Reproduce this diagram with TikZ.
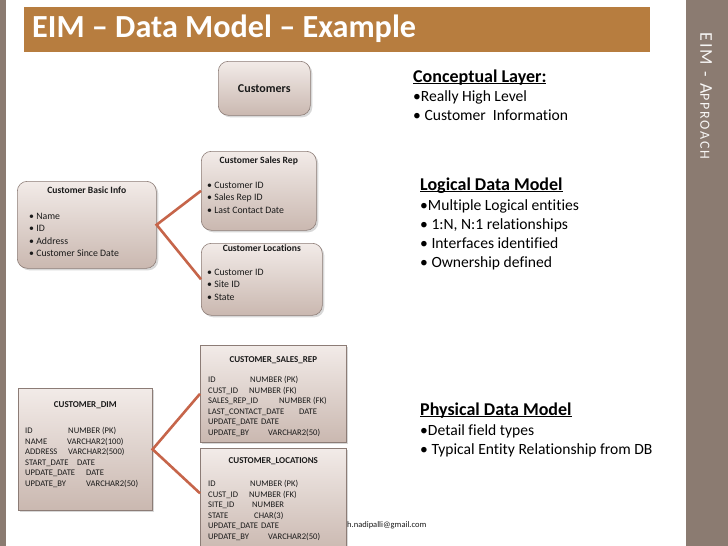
\documentclass[tikz,border=0pt]{standalone}
\usepackage{fontspec}
\setmainfont{Carlito}[Ligatures=NoCommon]
\usetikzlibrary{positioning,shadows,calc}
\definecolor{eimBar}{HTML}{B77D3F}
\definecolor{eimSide}{HTML}{8B7B71}
\definecolor{eimTop}{HTML}{F2EBE8}
\definecolor{eimBot}{HTML}{CAB8B0}
\definecolor{eimEdge}{HTML}{8C7C76}
\definecolor{eimLink}{HTML}{C6654A}
\definecolor{eimInk}{HTML}{1A1A1A}
% underline that runs through the descenders, as in the slide
\newcommand\eimul[1]{\setbox0\hbox{#1}\rlap{\rule[-1.8pt]{\wd0}{1.2pt}}\box0}
\newcommand\fld[3]{\makebox[#1pt][l]{#2}#3}
\tikzset{
  ent/.style    ={draw=eimEdge,line width=0.6pt,top color=eimTop,bottom color=eimBot,
                  drop shadow={opacity=0.3,shadow xshift=2pt,shadow yshift=-2pt},
                  anchor=north west,inner sep=0pt},
  lent/.style   ={ent,rounded corners=10pt},
  pent/.style   ={ent},
  ttl/.style    ={font=\fontsize{9.6}{11}\selectfont\bfseries,text=eimInk,inner sep=0pt},
  lst/.style    ={font=\fontsize{9.8}{12.4}\selectfont,text=eimInk,align=left,
                  inner sep=0pt,anchor=north west},
  pttl/.style   ={font=\fontsize{9}{11}\selectfont\bfseries,text=eimInk,inner sep=0pt},
  plst/.style   ={font=\fontsize{8.6}{10.6}\selectfont,text=eimInk,align=left,
                  inner sep=0pt,anchor=north west},
  link/.style   ={eimLink,line width=2.6pt},
  hdr/.style    ={font=\fontsize{18}{20}\selectfont\bfseries,text=black,
                  inner sep=0pt,anchor=base west},
  blurb/.style  ={font=\fontsize{15.6}{19.2}\selectfont,text=black,align=left,
                  inner sep=0pt,anchor=north west},
}

\begin{document}
\begin{tikzpicture}[x=1pt,y=-1pt]
\clip (0,0) rectangle (728,546);
\fill[white] (0,0) rectangle (728,546);
\fill[eimSide] (0,0) rectangle (6,546);
\fill[eimSide] (686,0) rectangle (728,546);
\fill[eimBar] (24,7) rectangle (650,52);
\node[font=\fontsize{32.2}{35}\selectfont\bfseries,text=white,anchor=west,inner sep=0pt]
  (title) at (32,29) {EIM -- Data Model -- Example};
\node[font=\fontsize{18}{20}\selectfont\addfontfeatures{LetterSpace=12},text=white!93!eimSide,
  rotate=-90,anchor=west,inner sep=0pt]
  (side) at (706,32) {EIM - A{\fontsize{14}{16}\selectfont PPROACH}};

%% conceptual layer
\node[lent,minimum width=92pt,minimum height=54pt] (cust) at (218,61) {};
\node[ttl,font=\fontsize{12}{14}\selectfont\bfseries] (custT) at (cust.center) {Customers};

%% logical layer
\node[lent,minimum width=139pt,minimum height=87pt] (binfo) at (17,181) {};
\node[ttl,below=6pt of binfo.north] (binfoT) {Customer Basic Info};
\node[lst] (binfoL) at (29,213) {• Name\\• ID\\• Address\\• Customer Since Date};

\node[lent,minimum width=115pt,minimum height=79pt] (srep) at (201,151) {};
\node[ttl,below=6pt of srep.north] (srepT) {Customer Sales Rep};
\node[lst] (srepL) at (207,182) {• Customer ID\\• Sales Rep ID\\• Last Contact Date};

\node[lent,minimum width=121pt,minimum height=72pt] (sloc) at (201,243) {};
\node[ttl,below=2pt of sloc.north] (slocT) {Customer Locations};
\node[lst] (slocL) at (207,269) {• Customer ID\\• Site ID\\• State};

\draw[link] (srep.west) -- (binfo.east) -- (sloc.west);

%% physical layer
\node[pent,minimum width=134pt,minimum height=122pt] (pdim) at (18,388) {};
\node[pttl,below=13pt of pdim.north] (pdimT) {CUSTOMER\_DIM};
\node[plst] (pdimL) at (25,427) {\fld{43}{ID}{NUMBER (PK)}\\\fld{42}{NAME}{VARCHAR2(100)}\\
  \fld{43}{ADDRESS}{VARCHAR2(500)}\\\fld{52}{START\_DATE}{DATE}\\
  \fld{61}{UPDATE\_DATE}{DATE}\\\fld{61}{UPDATE\_BY}{VARCHAR2(50)}};

\node[pent,minimum width=146pt,minimum height=97pt] (psrep) at (200,345) {};
\node[pttl,below=11pt of psrep.north] (psrepT) {CUSTOMER\_SALES\_REP};
\node[plst] (psrepL) at (208,376) {\fld{42}{ID}{NUMBER (PK)}\\\fld{41}{CUST\_ID}{NUMBER (FK)}\\
  \fld{71}{SALES\_REP\_ID}{NUMBER (FK)}\\\fld{91}{LAST\_CONTACT\_DATE}{DATE}\\
  \fld{53}{UPDATE\_DATE}{DATE}\\\fld{60}{UPDATE\_BY}{VARCHAR2(50)}};

\node[pent,minimum width=146pt,minimum height=104pt] (ploc) at (200,448) {};
\node[pttl,below=9pt of ploc.north] (plocT) {CUSTOMER\_LOCATIONS};
\node[plst] (plocL) at (208,480) {\fld{42}{ID}{NUMBER (PK)}\\\fld{41}{CUST\_ID}{NUMBER (FK)}\\
  \fld{44}{SITE\_ID}{NUMBER}\\\fld{46}{STATE}{CHAR(3)}\\
  \fld{53}{UPDATE\_DATE}{DATE}\\\fld{60}{UPDATE\_BY}{VARCHAR2(50)}};

\draw[link] (psrep.west) -- (pdim.east) -- ([yshift=7pt]ploc.west);

\node[font=\fontsize{8.5}{10}\selectfont,text=eimInk,anchor=west,inner sep=0pt]
  (mail) at (347,525) {h.nadipalli@gmail.com};

%% notes on the right
\node[hdr] (concept) at (413,82) {\eimul{Conceptual Layer:}};
\node[blurb] (conceptL) at (413,90) {•Really High Level\\• Customer~~Information};
\node[hdr] (logical) at (420,190) {\eimul{Logical Data Model}};
\node[blurb] (logicalL) at (420,199) {•Multiple Logical entities\\• 1:N, N:1 relationships\\
  • Interfaces identified\\• Ownership defined};
\node[hdr] (physical) at (420,415) {\eimul{Physical Data Model}};
\node[blurb] (physicalL) at (420,424) {•Detail field types\\• Typical Entity Relationship from DB};
\end{tikzpicture}
\end{document}
